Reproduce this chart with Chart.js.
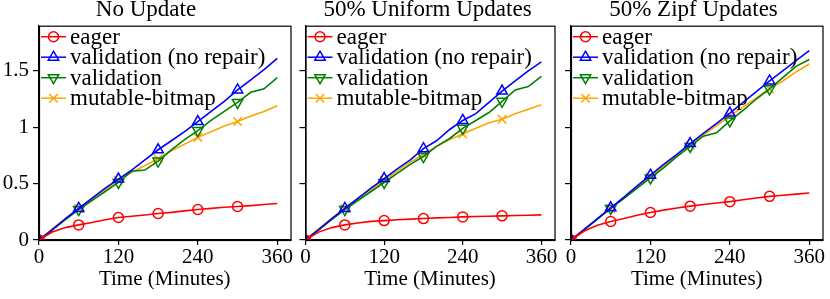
<!DOCTYPE html>
<html>
<head>
<meta charset="utf-8">
<script src="https://cdn.jsdelivr.net/npm/chart.js@4"></script>
<style>
  body { margin: 0; background: #fff; }
  .panel { position: absolute; top: 0; height: 299px; }
</style>
</head>
<body>
<div class="panel" style="left:0;width:298px"><canvas id="c1"></canvas></div>
<div class="panel" style="left:298px;width:264px"><canvas id="c2"></canvas></div>
<div class="panel" style="left:562px;width:268px"><canvas id="c3"></canvas></div>
<script>
// time axis (minutes)
const minutes = [0, 20, 40, 60, 80, 100, 120, 140, 160, 180, 200, 220, 240, 260, 280, 300, 320, 340, 360];
const xTicks = [0, 120, 240, 360];
const yTicks = [0, 0.5, 1, 1.5];
const seriesNames = ['eager', 'validation (no repair)', 'validation', 'mutable-bitmap'];
const panelTitles = ['No Update', '50% Uniform Updates', '50% Zipf Updates'];

// No Update
const noUpdEager = [0, 0.07, 0.11, 0.134, 0.155, 0.18, 0.2, 0.21, 0.222, 0.235, 0.245, 0.258, 0.27, 0.28, 0.29, 0.297, 0.305, 0.315, 0.324];
const noUpdValNoRepair = [0, 0.09, 0.19, 0.28, 0.37, 0.46, 0.54, 0.62, 0.71, 0.8, 0.88, 0.96, 1.05, 1.14, 1.23, 1.33, 1.42, 1.51, 1.61];
const noUpdValidation = [0, 0.09, 0.18, 0.27, 0.35, 0.43, 0.51, 0.61, 0.62, 0.7, 0.8, 0.89, 0.97, 1.06, 1.14, 1.22, 1.31, 1.34, 1.44];
const noUpdMutable = [0, 0.1, 0.19, 0.28, 0.37, 0.45, 0.53, 0.6, 0.66, 0.72, 0.79, 0.85, 0.91, 0.96, 1.01, 1.05, 1.1, 1.14, 1.19];

// 50% Uniform Updates
const uniEager = [0, 0.07, 0.11, 0.134, 0.15, 0.165, 0.172, 0.18, 0.185, 0.19, 0.196, 0.2, 0.205, 0.208, 0.211, 0.214, 0.217, 0.22, 0.223];
const uniValNoRepair = [0, 0.09, 0.19, 0.28, 0.37, 0.46, 0.545, 0.63, 0.71, 0.81, 0.88, 0.98, 1.06, 1.12, 1.22, 1.32, 1.41, 1.5, 1.58];
const uniValidation = [0, 0.09, 0.18, 0.27, 0.35, 0.43, 0.51, 0.59, 0.67, 0.74, 0.83, 0.9, 0.99, 1.06, 1.13, 1.23, 1.33, 1.36, 1.45];
const uniMutable = [0, 0.1, 0.19, 0.28, 0.37, 0.45, 0.53, 0.61, 0.69, 0.76, 0.83, 0.89, 0.94, 0.99, 1.04, 1.07, 1.12, 1.16, 1.2];

// 50% Zipf Updates
const zipfEager = [0, 0.08, 0.13, 0.164, 0.19, 0.22, 0.244, 0.265, 0.283, 0.3, 0.315, 0.328, 0.34, 0.357, 0.372, 0.387, 0.397, 0.407, 0.417];
const zipfValNoRepair = [0, 0.095, 0.19, 0.285, 0.38, 0.48, 0.575, 0.67, 0.76, 0.855, 0.945, 1.035, 1.125, 1.22, 1.315, 1.41, 1.5, 1.59, 1.68];
const zipfValidation = [0, 0.09, 0.185, 0.28, 0.37, 0.46, 0.55, 0.64, 0.74, 0.83, 0.92, 0.95, 1.056, 1.15, 1.25, 1.34, 1.44, 1.54, 1.6];
const zipfMutable = [0, 0.095, 0.19, 0.28, 0.37, 0.465, 0.56, 0.655, 0.75, 0.84, 0.93, 1.015, 1.1, 1.18, 1.26, 1.34, 1.41, 1.49, 1.56];

const panelData = [
  [noUpdEager, noUpdValNoRepair, noUpdValidation, noUpdMutable],
  [uniEager, uniValNoRepair, uniValidation, uniMutable],
  [zipfEager, zipfValNoRepair, zipfValidation, zipfMutable]
];

const styles = [
  { color: '#ff0000', pointStyle: 'circle', radius: 5, rotation: 0 },
  { color: '#0000ff', pointStyle: 'triangle', radius: 6, rotation: 0 },
  { color: '#008000', pointStyle: 'triangle', radius: 6, rotation: 180 },
  { color: '#ffa500', pointStyle: 'crossRot', radius: 6, rotation: 0 }
];

const FONT = "'Liberation Serif', 'Times New Roman', Times, serif";
Chart.defaults.font.family = FONT;
Chart.defaults.color = '#000';

// markers every 60 minutes, not at the end
function markerRadius(r) {
  return ctx => {
    const x = minutes[ctx.dataIndex];
    return (x % 60 === 0 && x < 360) ? r : 0;
  };
}

// box around the plot + legend in upper-left corner
const boxAndLegend = {
  id: 'boxAndLegend',
  afterDraw(chart) {
    const { ctx, chartArea: a } = chart;
    ctx.save();
    ctx.strokeStyle = '#000';
    ctx.lineWidth = 1.2;
    ctx.strokeRect(a.left + 0.5, a.top + 0.5, a.right - a.left, a.bottom - a.top);
    ctx.font = '23px ' + FONT;
    ctx.textBaseline = 'middle';
    seriesNames.forEach((name, i) => {
      const s = styles[i];
      const y = a.top + 11 + i * 20.5;
      const x0 = a.left + 2, x1 = a.left + 27;
      ctx.strokeStyle = s.color;
      ctx.fillStyle = 'rgba(0,0,0,0)';
      ctx.lineWidth = 1.5;
      ctx.beginPath();
      ctx.moveTo(x0, y);
      ctx.lineTo(x1, y);
      ctx.stroke();
      Chart.helpers.drawPoint(ctx, {
        pointStyle: s.pointStyle, radius: s.radius, rotation: s.rotation, borderWidth: 1.5
      }, (x0 + x1) / 2, y);
      ctx.fillStyle = '#000';
      ctx.fillText(name, a.left + 31, y + 1);
    });
    ctx.restore();
  }
};

function makeChart(id, p, leftWidth, rightPad) {
  const datasets = panelData[p].map((vals, i) => ({
    label: seriesNames[i],
    data: minutes.map((m, k) => ({ x: m, y: vals[k] })),
    borderColor: styles[i].color,
    borderWidth: 1.6,
    pointStyle: styles[i].pointStyle,
    pointRotation: styles[i].rotation,
    pointRadius: markerRadius(styles[i].radius),
    pointBorderWidth: 1.5,
    pointBorderColor: styles[i].color,
    pointBackgroundColor: 'rgba(0,0,0,0)',
    tension: 0
  }));
  return new Chart(document.getElementById(id), {
    type: 'line',
    data: { datasets: datasets },
    plugins: [boxAndLegend],
    options: {
      responsive: true,
      maintainAspectRatio: false,
      animation: false,
      layout: { padding: { top: 0, right: rightPad, left: 0, bottom: 0 } },
      plugins: {
        legend: { display: false },
        tooltip: { enabled: false },
        title: {
          display: true,
          text: panelTitles[p],
          color: '#000',
          font: { size: 23, weight: 'normal', lineHeight: 0.9 },
          padding: { top: 0, bottom: 5 }
        }
      },
      scales: {
        x: {
          type: 'linear',
          min: 0,
          max: 380,
          afterBuildTicks: s => { s.ticks = xTicks.map(v => ({ value: v })); },
          afterFit: s => { s.height = 59; },
          ticks: { color: '#000', font: { size: 21 }, padding: 0, maxRotation: 0, callback: v => String(v) },
          grid: { drawOnChartArea: false, color: '#000', tickLength: 5, lineWidth: 1.2 },
          border: { color: '#000', width: 1.2 },
          title: {
            display: true,
            text: 'Time (Minutes)',
            color: '#000',
            font: { size: 21 },
            padding: { top: 0, bottom: 7 }
          }
        },
        y: {
          min: 0,
          max: 1.9,
          afterBuildTicks: s => { s.ticks = yTicks.map(v => ({ value: v })); },
          afterFit: s => { s.width = leftWidth; },
          ticks: {
            display: p === 0,
            color: '#000',
            font: { size: 21 },
            padding: 4,
            callback: v => String(v)
          },
          grid: { drawOnChartArea: false, color: '#000', tickLength: 6, lineWidth: 1.2 },
          border: { color: '#000', width: 1.2 }
        }
      }
    }
  });
}

makeChart('c1', 0, 39, 6);
makeChart('c2', 1, 7, 5);
makeChart('c3', 2, 9, 5);
</script>
</body>
</html>
